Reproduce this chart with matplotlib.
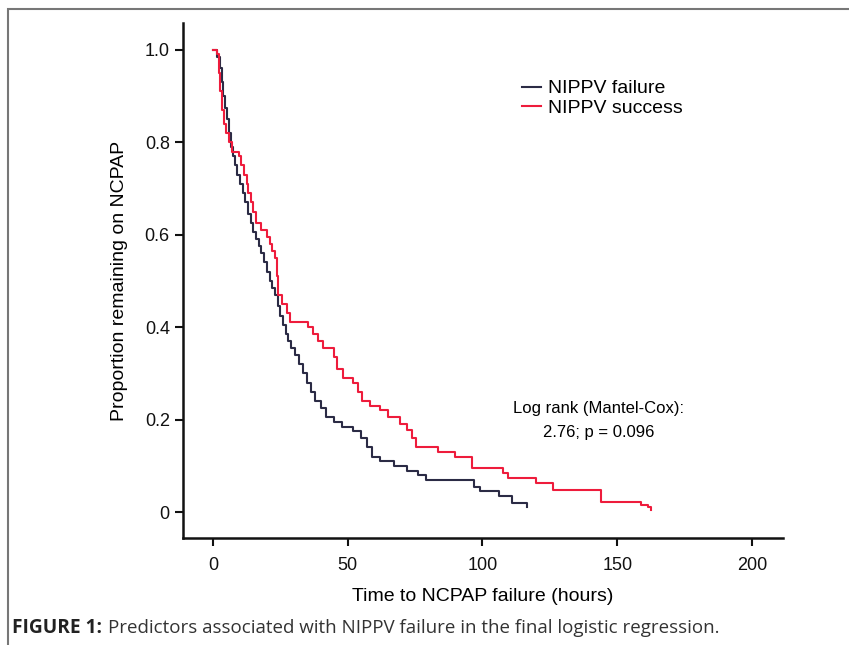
import matplotlib
matplotlib.use("Agg")
import matplotlib.pyplot as plt
from matplotlib.patches import Rectangle

# Kaplan-Meier step curves (time in hours, proportion)
failure_t = [0, 1.5, 2.5, 3.2, 3.8, 4.5, 5.2, 6.0, 6.8, 7.5, 8.3, 9.0, 10, 11, 12, 13, 14, 15, 16, 17,
             18, 19, 20, 21, 22, 23, 24, 25, 26, 27, 28, 29, 30.5, 32, 33.5, 35, 36.5, 38, 40, 42,
             45, 48, 52, 55, 57, 59, 62, 67, 72, 76, 79, 97, 99, 106, 111, 116.5]
failure_s = [1.0, 0.985, 0.96, 0.93, 0.90, 0.875, 0.85, 0.82, 0.79, 0.77, 0.75, 0.73, 0.71, 0.69, 0.67,
             0.645, 0.625, 0.605, 0.59, 0.575, 0.56, 0.54, 0.52, 0.50, 0.485, 0.47, 0.445, 0.425, 0.405,
             0.385, 0.37, 0.355, 0.34, 0.32, 0.30, 0.28, 0.26, 0.24, 0.225, 0.205, 0.195, 0.185, 0.175,
             0.16, 0.14, 0.12, 0.11, 0.10, 0.09, 0.08, 0.07, 0.055, 0.045, 0.035, 0.02, 0.01]

success_t = [0, 1.5, 2.2, 2.8, 3.5, 4.2, 5, 6, 7, 9.5, 10.5, 11.5, 12.5, 13.2, 14, 15, 16, 18, 20, 21,
             22, 23, 23.8, 24.2, 25.5, 27.3, 28.6, 35.4, 37, 39, 41, 45, 46, 48.4, 52, 54, 55.2, 58.3,
             62, 65, 69.4, 72, 74, 75.5, 83.6, 89.8, 96, 107.7, 109.6, 120, 126.3, 144, 159, 161.6, 162.5]
success_s = [1.0, 0.99, 0.95, 0.91, 0.87, 0.84, 0.82, 0.80, 0.78, 0.77, 0.75, 0.73, 0.71, 0.69, 0.67,
             0.65, 0.625, 0.61, 0.595, 0.58, 0.565, 0.55, 0.51, 0.47, 0.45, 0.43, 0.412, 0.40, 0.385,
             0.37, 0.355, 0.335, 0.31, 0.29, 0.28, 0.26, 0.24, 0.23, 0.22, 0.205, 0.19, 0.177, 0.16,
             0.141, 0.131, 0.12, 0.095, 0.084, 0.073, 0.062, 0.048, 0.022, 0.015, 0.01, 0.004]

x_ticks = [0, 50, 100, 150, 200]
y_ticks = [0, 0.2, 0.4, 0.6, 0.8, 1.0]
y_tick_labels = ["0", "0.2", "0.4", "0.6", "0.8", "1.0"]

plt.rcParams['font.family'] = ['Liberation Sans', 'DejaVu Sans']

fig = plt.figure(figsize=(8.49, 6.45), dpi=100)
ax = fig.add_axes([183 / 849, 1 - 538 / 645, 600 / 849, 515 / 645])

ax.step(failure_t, failure_s, where='post', color='#2b2b45', lw=1.5, label='NIPPV failure')
ax.step(success_t, success_s, where='post', color='#ee1c3c', lw=1.5, label='NIPPV success')

ax.set_xlim(-11.1, 211.5)
ax.set_ylim(-0.056, 1.058)
ax.set_xticks(x_ticks)
ax.set_yticks(y_ticks)
ax.set_yticklabels(y_tick_labels)
ax.tick_params(direction='out', length=6, width=1.5, labelsize=13, colors='#111111')
ax.tick_params(axis='x', pad=8)
for side in ['top', 'right']:
    ax.spines[side].set_visible(False)
for side in ['left', 'bottom']:
    ax.spines[side].set_linewidth(1.8)
    ax.spines[side].set_color('#111111')

ax.set_xlabel("Time to NCPAP failure (hours)", fontsize=14, labelpad=10)
ax.set_ylabel("Proportion remaining on NCPAP", fontsize=14, labelpad=12)

ax.legend(loc='upper left', bbox_to_anchor=(0.552, 0.905), frameon=False, fontsize=14,
          handlelength=1.0, handletextpad=0.35, labelspacing=0.1, borderaxespad=0)

ax.text(0.692, 0.229, "Log rank (Mantel-Cox):\n2.76; p = 0.096", transform=ax.transAxes,
        ha='center', va='center', fontsize=12, linespacing=1.75)

# caption under the chart
fig.text(12 / 849, 1 - 628 / 645, "FIGURE 1:", fontsize=13.8, fontweight='bold',
         family=['Open Sans', 'DejaVu Sans'], color='#222222', va='center')
fig.text(108 / 849, 1 - 628 / 645,
         "Predictors associated with NIPPV failure in the final logistic regression.",
         fontsize=13.5, family=['Open Sans', 'DejaVu Sans'], color='#333333', va='center')

# grey frame around the figure
fig.patches.append(Rectangle((8 / 849, -0.1), 1.1, 1.1 - 9 / 645, transform=fig.transFigure,
                             fill=False, edgecolor='#777777', lw=1.5, zorder=0))

fig.savefig("out.png", dpi=100)
